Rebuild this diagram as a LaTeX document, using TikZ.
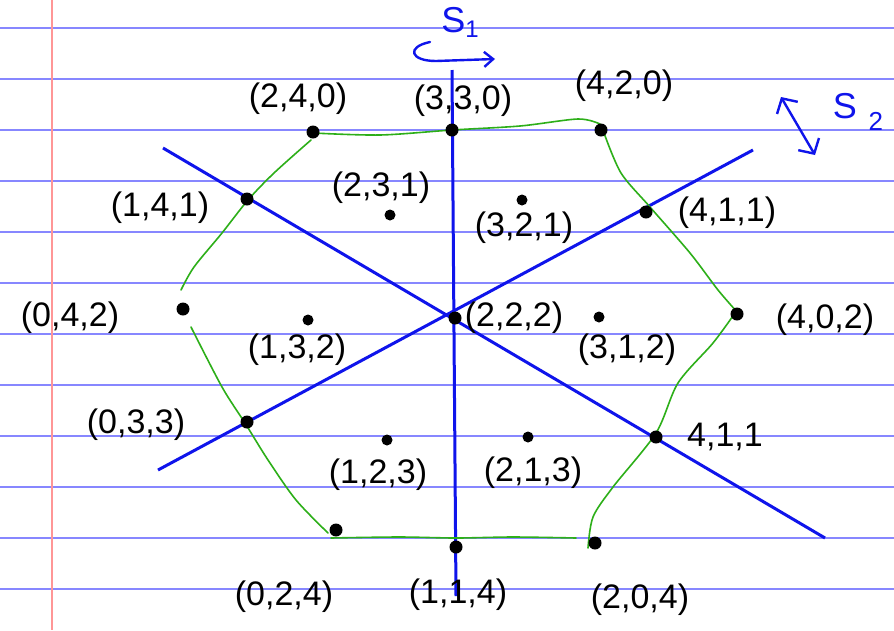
\documentclass[tikz,border=0pt]{standalone}
\usepackage{fontspec}
\setmainfont{Liberation Sans}
\usetikzlibrary{arrows.meta}
\definecolor{ruleblue}{RGB}{135,135,255}
\definecolor{marginred}{RGB}{255,150,150}
\definecolor{penblue}{RGB}{15,20,235}
\definecolor{pengreen}{RGB}{45,175,25}
\begin{document}
\begin{tikzpicture}[x=1pt,y=-1pt,
  dot/.style={circle,fill=black,inner sep=0pt,minimum size=13pt},
  lab/.style={font=\fontsize{34}{40}\selectfont,inner sep=0pt,text=black},
  slab/.style={font=\fontsize{36}{40}\selectfont,inner sep=0pt,text=penblue},
  axisline/.style={penblue,line width=3pt},
  edgeline/.style={pengreen,line width=1.6pt,line cap=round,line join=round},
  ruleline/.style={ruleblue,line width=1.3pt},
  penarrow/.style={penblue,line width=2.4pt,line cap=round}]
\useasboundingbox (0,0) rectangle (894,630);
\fill[white] (0,0) rectangle (894,630);
% ruled paper
\foreach \yy in {28,79,...,589} \draw[ruleline] (0,\yy) -- (894,\yy);
\draw[marginred,line width=1.3pt] (52,0) -- (52,630);

% mirror lines
\coordinate (aT) at (452,70);  \coordinate (aB) at (456,596);
\coordinate (bL) at (163,148); \coordinate (bR) at (825,538);
\coordinate (cL) at (158,470); \coordinate (cR) at (753,150);
\draw[axisline] (aT) -- (aB);
\draw[axisline] (bL) -- (bR);
\draw[axisline] (cL) -- (cR);

% green hexagon
\draw[edgeline] plot[smooth,tension=0.5] coordinates {(313,133) (380,135) (452,130) (520,126) (578,119) (600,124)};
\draw[edgeline] plot[smooth,tension=0.5] coordinates {(604,133) (621,173) (650,207) (690,253) (718,290) (738,313)};
\draw[edgeline] plot[smooth,tension=0.5] coordinates {(735,313) (713,343) (678,383) (656,433) (613,487) (593,517) (588,548)};
\draw[edgeline] plot[smooth,tension=0.5] coordinates {(331,538) (399,537) (456,538) (513,537) (576,538)};
\draw[edgeline] plot[smooth,tension=0.5] coordinates {(191,327) (222,387) (245,423) (268,460) (296,500) (328,533)};
\draw[edgeline] plot[smooth,tension=0.5] coordinates {(311,140) (274,173) (248,200) (222,233) (194,267) (181,290)};

% points
\node[dot] (p240) at (313,132) {};
\node[dot] (p330) at (452,130) {};
\node[dot] (p420) at (601,130) {};
\node[dot] (p141) at (247,199) {};
\node[dot,minimum size=11pt] (p231) at (390,215) {};
\node[dot,minimum size=11pt] (p321) at (522,200) {};
\node[dot] (p411) at (646,212) {};
\node[dot] (p042) at (183,309) {};
\node[dot,minimum size=11pt] (p132) at (308,320) {};
\node[dot] (p222) at (455,318) {};
\node[dot,minimum size=11pt] (p312) at (599,317) {};
\node[dot] (p402) at (737,314) {};
\node[dot] (p033) at (247,422) {};
\node[dot,minimum size=11pt] (p123) at (387,440) {};
\node[dot,minimum size=11pt] (p213) at (528,437) {};
\node[dot] (p411b) at (656,437) {};
\node[dot] (p024) at (336,530) {};
\node[dot] (p114) at (456,547) {};
\node[dot] (p204) at (595,543) {};

% labels
\node[lab] (l240) at (298,99) {(2,4,0)};
\node[lab] (l330) at (463,101) {(3,3,0)};
\node[lab] (l420) at (624,86) {(4,2,0)};
\node[lab] (l141) at (160,208) {(1,4,1)};
\node[lab] (l231) at (381,188) {(2,3,1)};
\node[lab] (l321) at (524,228) {(3,2,1)};
\node[lab] (l411) at (727,213) {(4,1,1)};
\node[lab] (l042) at (70,318) {(0,4,2)};
\node[lab] (l132) at (297,350) {(1,3,2)};
\node[lab] (l222) at (514,318) {(2,2,2)};
\node[lab] (l312) at (627,350) {(3,1,2)};
\node[lab] (l402) at (825,320) {(4,0,2)};
\node[lab] (l033) at (136,425) {(0,3,3)};
\node[lab] (l123) at (378,475) {(1,2,3)};
\node[lab] (l411b) at (725,437) {4,1,1};
\node[lab] (l213) at (533,473) {(2,1,3)};
\node[lab] (l024) at (284,597) {(0,2,4)};
\node[lab] (l114) at (458,595) {(1,1,4)};
\node[lab] (l204) at (640,600) {(2,0,4)};

% symmetry labels and arrows
\node[slab] (s1) at (460,22) {S\raisebox{-5pt}{\fontsize{24}{24}\selectfont 1}};
\node[slab] (s2) at (858,112) {S\raisebox{-12pt}{\fontsize{26}{26}\selectfont\, 2}};
\coordinate (s1a) at (430,42);
\coordinate (s1m) at (436,61);
\coordinate (s1b) at (495,59);
\draw[penarrow,-{Straight Barb[length=9pt,width=15pt]}] (s1a) .. controls (406,47) and (410,61) .. (s1m) -- (s1b);
\coordinate (s2a) at (781,97);
\coordinate (s2b) at (815,155);
\draw[penarrow,{Straight Barb[length=11pt,width=24pt]}-{Straight Barb[length=11pt,width=24pt]}] (s2a) -- (s2b);
\end{tikzpicture}
\end{document}
